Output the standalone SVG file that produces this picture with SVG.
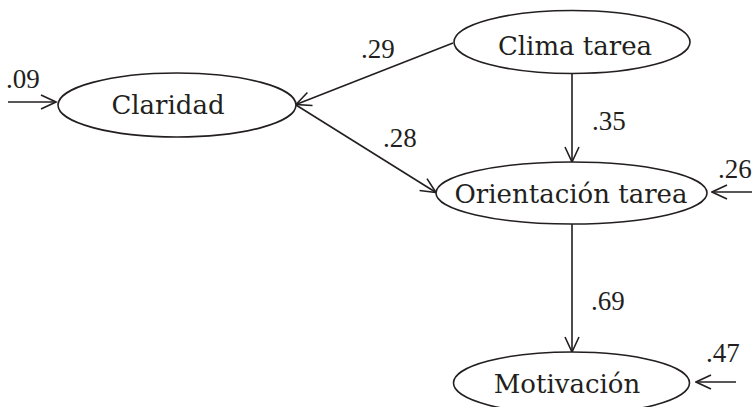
<svg xmlns="http://www.w3.org/2000/svg" width="754" height="407" viewBox="0 0 754 407">
<style>
.node{fill:#fff;stroke:#231f20;stroke-width:1.6}
.lbl{font-family:"DejaVu Serif",serif;font-size:26px;fill:#231f20;text-anchor:middle}
.num{font-family:"Liberation Serif",serif;font-size:27px;fill:#231f20}
.edge{stroke:#231f20;stroke-width:1.6;fill:none;marker-end:url(#ah)}
</style>
<defs>
<marker id="ah" viewBox="-16 -8 17 16" refX="0" refY="0" markerWidth="17" markerHeight="16" markerUnits="userSpaceOnUse" orient="auto">
<path d="M-15,-7 L0,0 L-15,7" fill="none" stroke="#231f20" stroke-width="1.6"/>
</marker>
</defs>
<rect width="754" height="407" fill="#fff"/>
<g id="connectors">
<line class="edge" x1="453" y1="43" x2="296" y2="104.5"/>
<line class="edge" x1="296" y1="105" x2="436" y2="192.5"/>
<line class="edge" x1="572" y1="74" x2="572" y2="162"/>
<line class="edge" x1="572" y1="224" x2="572" y2="352"/>
<line class="edge" x1="8" y1="102" x2="56" y2="102"/>
<line class="edge" x1="752" y1="192" x2="712" y2="192"/>
<line class="edge" x1="736" y1="382" x2="696" y2="382"/>
</g>
<g id="clima">
<ellipse class="node" cx="572" cy="42" rx="118" ry="31.5"/>
<text class="lbl" x="575" y="55">Clima tarea</text>
</g>
<g id="claridad">
<ellipse class="node" cx="177" cy="105" rx="119" ry="32"/>
<text class="lbl" x="168" y="114">Claridad</text>
</g>
<g id="orientacion">
<ellipse class="node" cx="571.5" cy="193" rx="135.5" ry="31"/>
<text class="lbl" x="571" y="203">Orientación tarea</text>
</g>
<g id="motivacion">
<ellipse class="node" cx="571.5" cy="383" rx="118" ry="31"/>
<text class="lbl" x="567" y="393">Motivación</text>
</g>
<g id="labels">
<text class="num" x="361" y="58">.29</text>
<text class="num" x="383" y="147">.28</text>
<text class="num" x="592" y="130">.35</text>
<text class="num" x="591" y="310">.69</text>
<text class="num" x="6" y="88">.09</text>
<text class="num" x="718" y="178">.26</text>
<text class="num" x="706" y="362">.47</text>
</g>
</svg>
